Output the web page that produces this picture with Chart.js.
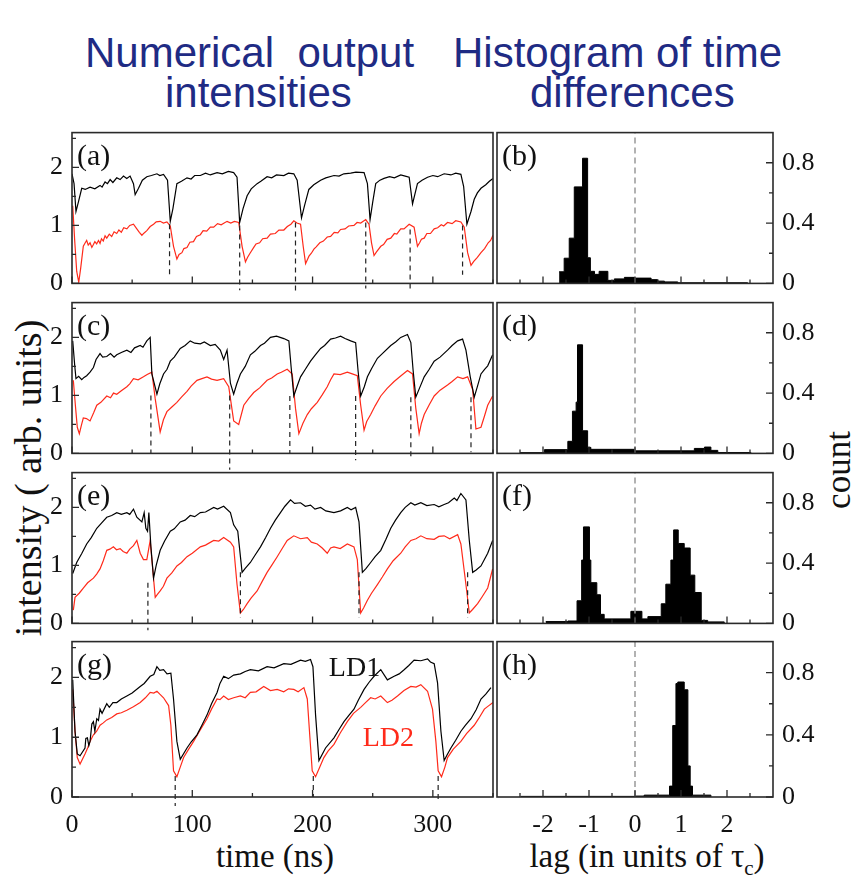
<!DOCTYPE html>
<html>
<head>
<meta charset="utf-8">
<script src="https://cdn.jsdelivr.net/npm/chart.js@4.4.1/dist/chart.umd.min.js"></script>
<style>
  body { margin: 0; background: #fff; }
  #fig { position: relative; width: 851px; height: 883px; overflow: hidden; background: #fff; }
  .box { position: absolute; }
  .txt { position: absolute; white-space: pre; line-height: 1; }
  .head { font-family: "Liberation Sans", Arial, sans-serif; font-size: 42px; color: #1f2b84; }
  .serif { font-family: "Liberation Serif", "Times New Roman", serif; color: #111; }
</style>
</head>
<body>
<div id="fig">
  <div class="txt head" style="left:85px;top:32px">Numerical  output</div>
  <div class="txt head" style="left:453px;top:32px">Histogram of time</div>
  <div class="txt head" style="left:165px;top:72px">intensities</div>
  <div class="txt head" style="left:530px;top:72px">differences</div>
  <div class="txt serif" style="left:28px;top:478px;font-size:38px;transform:translate(-50%,-50%) rotate(-90deg)">intensity ( arb. units)</div>
  <div class="txt serif" style="left:838px;top:470px;font-size:35px;transform:translate(-50%,-50%) rotate(-90deg)">count</div>
  <div class="txt serif" style="left:275px;top:840px;font-size:33px;transform:translateX(-50%)">time (ns)</div>
  <div class="txt serif" style="left:647px;top:840px;font-size:33px;transform:translateX(-50%)">lag (in units of τ<sub style="font-size:21px">c</sub>)</div>
</div>
<script>
// tick labels
const timeTicks = [0, 100, 200, 300];
const timeMinor = [50, 150, 250, 350];
const intTicks = [0, 1, 2];
const intMinor = [0.5, 1.5, 2.5];
const lagTicks = [-2, -1, 0, 1, 2];
const lagMinor = [-2.5, -1.5, -0.5, 0.5, 1.5, 2.5];
const cntTicks = [0, 0.4, 0.8];
const cntMinor = [0.2, 0.6];

// output intensities [time ns, intensity], LD1 black, LD2 red
const ldA1 = [[0,1.89],[1.7,1.72],[3.3,1.24],[5.3,1.40],[8.1,1.64],[11,1.62],[15,1.66],[19,1.63],[23.3,1.69],[25,1.66],[27.5,1.75],[29.5,1.72],[31.7,1.79],[34,1.74],[37.2,1.82],[40,1.79],[42.8,1.85],[45.5,1.81],[48.3,1.85],[51.1,1.72],[52.5,1.53],[55.3,1.64],[58.5,1.78],[62.2,1.84],[66,1.86],[70.6,1.89],[73,1.86],[76.1,1.88],[79.4,1.78],[81.7,1.07],[83.9,1.29],[87.2,1.72],[91,1.76],[95.6,1.82],[99,1.80],[102,1.86],[106.7,1.86],[111,1.90],[115,1.87],[120.6,1.91],[125,1.89],[130,1.93],[134.4,1.91],[137.2,1.83],[139.4,1.05],[142.2,1.29],[145.6,1.51],[149,1.63],[153.9,1.72],[157,1.76],[162.2,1.84],[166,1.82],[170,1.87],[176.1,1.86],[180,1.90],[184.4,1.89],[187.2,1.78],[190.8,1.13],[193.3,1.34],[196.9,1.62],[201,1.70],[206.7,1.78],[211,1.82],[217.8,1.86],[222,1.85],[226,1.89],[231.7,1.90],[236,1.92],[242.8,1.91],[245.6,1.72],[247.8,1.10],[250,1.40],[252.5,1.72],[256,1.78],[259.4,1.81],[264,1.84],[268,1.82],[273.3,1.87],[277,1.85],[280.3,1.83],[283.1,1.37],[287.2,1.72],[291,1.78],[295.6,1.83],[300,1.86],[304,1.84],[309.4,1.89],[315,1.87],[319,1.90],[323.3,1.88],[325.6,1.67],[328.3,1.02],[331.7,1.24],[334.4,1.45],[337,1.56],[340,1.64],[344,1.70],[347,1.76],[350,1.81]];
const ldA2 = [[0.6,1.34],[2.2,0.75],[3.9,0.21],[5.6,0.02],[7.2,0.26],[9.4,0.64],[11,0.70],[12.2,0.74],[13.5,0.66],[15,0.70],[16.5,0.62],[17.8,0.67],[19,0.72],[20.5,0.68],[22,0.74],[23.3,0.69],[24.5,0.77],[26,0.73],[27.5,0.82],[28.9,0.78],[31,0.85],[33,0.81],[35,0.89],[37.2,0.86],[39,0.92],[41,0.88],[43,0.96],[45.6,0.94],[48,1.00],[51.1,1.02],[53.9,0.94],[56,0.88],[58.1,0.83],[60,0.87],[62.2,0.91],[65,0.98],[67.8,1.02],[70,1.06],[73.3,1.07],[76,1.04],[78.9,1.06],[81.7,0.99],[84.4,0.64],[87.2,0.42],[89,0.50],[91.4,0.53],[93,0.60],[95.6,0.62],[98,0.71],[101,0.72],[103.5,0.81],[106.7,0.84],[109,0.91],[112,0.90],[115,0.97],[117.8,0.97],[121,1.03],[124,1.01],[128.9,1.07],[132,1.04],[135,1.07],[138.6,1.05],[141.4,0.64],[144.2,0.37],[146,0.45],[148,0.52],[151.1,0.62],[153,0.68],[156,0.70],[158.5,0.77],[162.2,0.78],[165,0.85],[169,0.86],[172,0.92],[176.1,0.92],[179,0.98],[182,1.02],[184.4,1.08],[187,1.04],[190,1.02],[192.2,0.64],[194.2,0.34],[197,0.47],[199,0.52],[201.1,0.59],[203,0.63],[206,0.70],[209,0.73],[212.2,0.80],[215,0.81],[218,0.88],[221,0.87],[223.3,0.93],[227,0.94],[230,0.99],[234.4,1.00],[237,1.05],[240,1.04],[244.2,1.10],[246.9,1.02],[249,0.70],[251.1,0.48],[253,0.54],[256.7,0.64],[259,0.67],[262,0.76],[265,0.78],[268,0.86],[270,0.85],[273.3,0.94],[276,0.94],[280.3,1.02],[284.4,0.97],[287.2,0.64],[289,0.70],[290.5,0.76],[292.8,0.78],[295,0.86],[298,0.86],[301.1,0.94],[304,0.96],[307,1.01],[309,0.99],[312.2,1.05],[316,1.03],[319,1.08],[323.3,1.06],[326.1,0.97],[328.9,0.53],[331.7,0.31],[334,0.38],[337,0.45],[340,0.53],[343,0.60],[346,0.70],[348,0.74],[350,0.83]];

const ldC1 = [[0.6,1.94],[2.2,1.53],[3.3,1.29],[5.5,1.33],[8.1,1.27],[10,1.31],[12.2,1.34],[15,1.40],[17.8,1.48],[20,1.62],[23.3,1.72],[25.5,1.66],[28.9,1.67],[32,1.72],[35,1.66],[37.2,1.70],[41,1.74],[45.6,1.78],[49,1.74],[52,1.82],[56.7,1.86],[59,1.83],[62.2,1.94],[65,2.0],[66.4,1.37],[70.6,1.02],[73,1.20],[76.1,1.37],[79,1.45],[81.7,1.59],[85,1.66],[90,1.81],[94,1.86],[98.3,1.94],[102,1.90],[106.7,1.89],[110,1.92],[115,1.86],[119,1.88],[123.3,1.78],[126.1,1.62],[128.9,1.78],[131.7,1.21],[134.4,1.02],[137,1.20],[140,1.37],[144,1.50],[148.3,1.70],[152,1.76],[156.7,1.86],[160,1.90],[165,2.0],[170,2.02],[176.1,1.98],[180.3,1.94],[182.2,1.48],[184.4,0.99],[187,1.15],[190,1.32],[194,1.45],[198.3,1.59],[202,1.69],[206.7,1.81],[210,1.86],[215,1.97],[219,1.99],[223.3,2.02],[227,1.98],[231.7,1.94],[235.8,1.91],[237.8,1.43],[240,0.99],[243,1.15],[245.6,1.32],[249,1.46],[253.9,1.64],[258,1.72],[265,1.86],[269,1.92],[273.3,2.0],[278.9,2.05],[281.7,1.91],[283.6,1.43],[285.8,0.97],[289,1.13],[292.8,1.32],[297,1.45],[301.1,1.59],[306,1.66],[312.2,1.78],[316,1.86],[320.6,1.94],[324.7,1.97],[327.5,1.78],[331.1,1.32],[334.4,0.97],[337,1.15],[340,1.37],[343,1.45],[345.6,1.51],[349.7,1.70]];
const ldC2 = [[1.1,1.26],[2.8,0.83],[4.4,0.45],[6.1,0.34],[8,0.50],[9.4,0.61],[12,0.60],[15,0.56],[18,0.70],[20.6,0.83],[24,0.88],[28.9,0.99],[32,0.96],[34.5,1.04],[37.2,1.02],[41,1.08],[45.6,1.15],[48,1.20],[51.1,1.29],[55,1.27],[59.4,1.32],[62.5,1.36],[66.4,1.40],[69.2,0.94],[73.3,0.37],[76,0.58],[78.9,0.72],[83,0.80],[87.2,0.88],[91,0.97],[95.6,1.07],[99,1.16],[103.9,1.26],[108,1.29],[112.2,1.32],[116,1.28],[120.6,1.26],[126.1,1.29],[130.3,1.15],[134.4,0.56],[138.6,0.50],[142.8,0.83],[147,0.95],[151.1,1.05],[156,1.13],[162.2,1.26],[166,1.30],[170.6,1.37],[174,1.40],[178.9,1.45],[183.1,1.37],[185.8,0.78],[188.6,0.34],[192,0.52],[195.6,0.67],[199,0.77],[203.9,0.88],[208,1.01],[212.2,1.15],[215,1.27],[217.8,1.37],[223,1.36],[228.9,1.40],[233,1.37],[237.2,1.34],[240,0.83],[242.8,0.40],[245,0.55],[248.3,0.67],[252,0.82],[256.7,0.99],[262,1.12],[267.8,1.24],[273,1.33],[278.9,1.43],[283.1,1.37],[285.8,0.78],[288.6,0.34],[290.5,0.52],[292.8,0.67],[297,0.84],[301.1,0.99],[306,1.09],[312.2,1.18],[316,1.24],[320.6,1.32],[325,1.29],[328.9,1.32],[333.1,1.10],[335.8,0.42],[340,0.45],[343,0.65],[345.6,0.83],[349.7,0.99]];

const ldE1 = [[0.6,0.86],[3.9,1.05],[8,1.20],[12.2,1.37],[16,1.48],[20.6,1.64],[24.5,1.73],[28.9,1.83],[33,1.86],[37.2,1.91],[41,1.88],[45.6,1.91],[48,1.88],[51.1,1.97],[53.9,1.83],[58.1,1.75],[60,1.91],[61.4,1.64],[62.8,1.59],[63.9,1.91],[65.6,1.32],[67.8,0.78],[70,1.00],[73.3,1.26],[77,1.42],[81.7,1.59],[85,1.63],[90,1.75],[94,1.78],[98.3,1.86],[102,1.84],[106.7,1.91],[111,1.92],[117.8,2.0],[121,1.97],[126.1,2.02],[131.7,1.91],[134.4,1.70],[137.8,1.59],[141.4,0.88],[144,0.95],[148.3,1.05],[152,1.17],[156.7,1.32],[161,1.48],[165,1.64],[169,1.78],[173.3,1.91],[177,2.02],[181.7,2.13],[185,2.07],[190,2.08],[194,2.02],[198.3,2.04],[202,1.97],[206.7,2.0],[211,1.94],[217.8,1.91],[223.3,1.94],[228.9,2.0],[232,1.96],[235.8,2.0],[238.6,1.75],[241.4,0.88],[244.5,0.95],[248.3,1.05],[252,1.15],[256.7,1.26],[261,1.45],[265,1.64],[269,1.78],[273.3,1.91],[277,2.00],[281.7,2.08],[285,2.04],[290,2.08],[295,2.03],[301.1,2.05],[305,2.01],[309.4,2.05],[313,2.08],[317.8,2.16],[320,2.12],[323.3,2.24],[327.5,2.13],[330.3,1.43],[333.1,0.88],[336,0.92],[340,0.99],[345.6,1.21],[349.7,1.43]];
const ldE2 = [[1.1,0.23],[2.5,0.45],[6,0.52],[9.4,0.61],[13,0.70],[17.8,0.78],[20.5,0.85],[23.3,0.94],[26,1.08],[28.9,1.26],[31.5,1.28],[34.4,1.32],[37,1.27],[40,1.29],[42.5,1.24],[45.6,1.21],[48,1.28],[51.1,1.34],[53.9,1.43],[56.7,1.21],[59.4,1.10],[62.2,1.10],[65,1.43],[66.4,1.10],[69.2,0.45],[71,0.50],[73.3,0.56],[76,0.64],[78.9,0.78],[83,0.87],[87.2,0.99],[91,1.05],[95.6,1.15],[100,1.21],[106.7,1.32],[111,1.35],[117.8,1.43],[122,1.42],[126.1,1.48],[131.7,1.40],[134.4,1.32],[137.2,0.67],[140,0.18],[142.5,0.24],[145.6,0.34],[149,0.44],[153.9,0.56],[158,0.72],[162.2,0.88],[166,1.00],[170.6,1.15],[175,1.30],[178.9,1.43],[184.4,1.51],[190,1.46],[195.6,1.48],[199,1.40],[203.9,1.37],[208,1.30],[212.2,1.21],[215,1.30],[217.8,1.32],[223,1.29],[228.9,1.37],[234.4,1.32],[237.2,1.10],[240,0.18],[242.5,0.27],[245.6,0.40],[249,0.52],[253.9,0.67],[258,0.80],[262.2,0.94],[267,1.08],[273.3,1.21],[277,1.32],[281.7,1.43],[286,1.46],[290,1.51],[295,1.46],[301.1,1.45],[305,1.50],[309.4,1.51],[314,1.46],[320.6,1.53],[323.3,1.37],[327.5,0.67],[330.3,0.18],[333,0.24],[337.2,0.34],[341,0.46],[345.6,0.61],[349.7,0.94]];

const ldG1 = [[0.6,1.96],[2.5,1.10],[4.4,0.72],[6.7,0.69],[10.8,0.82],[11.5,0.98],[12.8,0.99],[14,0.86],[15,0.93],[16.5,1.22],[17.8,1.26],[19,1.10],[20.6,1.31],[22,1.28],[23.3,1.47],[25,1.40],[28.9,1.56],[31,1.50],[34,1.58],[37.2,1.58],[41,1.64],[45.6,1.69],[50,1.74],[56.7,1.85],[60,1.90],[65,2.02],[68,2.05],[70.6,2.18],[73,2.12],[76.1,2.13],[79,2.06],[82.2,2.07],[84.4,1.64],[87.2,0.93],[90,0.63],[95.6,0.82],[99,0.92],[103.9,1.04],[108,1.20],[112.2,1.37],[116,1.56],[120.6,1.75],[123,1.90],[126.1,2.02],[130,1.98],[134.4,2.04],[140,2.06],[144,2.10],[148.3,2.13],[155,2.11],[162.2,2.18],[168,2.16],[176.1,2.23],[182,2.22],[190,2.29],[194,2.27],[198.3,2.30],[200.3,2.18],[202.5,1.37],[205.3,0.61],[210.8,0.82],[217.8,0.99],[222,1.13],[226.1,1.26],[230,1.36],[234.4,1.47],[238,1.62],[242.8,1.80],[247,1.92],[251.1,2.02],[256.7,2.13],[262.2,1.96],[267.8,2.02],[272,2.06],[276.1,2.13],[280,2.20],[284.4,2.29],[290,2.28],[295.6,2.31],[298,2.26],[301.1,2.23],[303.9,1.91],[306.7,1.10],[309.4,0.61],[312,0.71],[315,0.82],[319,0.95],[323.3,1.10],[327,1.20],[331.7,1.31],[336,1.46],[340,1.64],[344,1.72],[348.3,1.83]];
const ldG2 = [[0.6,1.80],[2.5,1.10],[4.4,0.66],[6.7,0.55],[10.8,0.72],[13,0.82],[15,0.93],[17.8,1.04],[20.5,1.10],[23.3,1.20],[26,1.24],[28.9,1.29],[33,1.33],[37.2,1.39],[41,1.41],[45.6,1.45],[51,1.51],[56.7,1.58],[61,1.66],[65,1.75],[68,1.74],[70.6,1.77],[73,1.72],[76.1,1.66],[80.3,1.53],[82.2,1.20],[84.4,0.44],[87.2,0.34],[90,0.50],[92.8,0.66],[97,0.80],[101.1,0.93],[106,1.10],[112.2,1.31],[116,1.47],[120.6,1.64],[123,1.63],[126.1,1.69],[130,1.63],[134.4,1.66],[140,1.69],[144,1.66],[148.3,1.75],[153,1.76],[159.4,1.85],[165,1.78],[170.6,1.80],[176,1.76],[180,1.81],[184.4,1.80],[188,1.76],[192.8,1.83],[195.6,1.64],[197.8,0.99],[199.7,0.44],[202.5,0.34],[206,0.50],[209.4,0.66],[213,0.77],[217.8,0.88],[223,1.07],[228.9,1.26],[234,1.40],[240,1.50],[244,1.58],[248.3,1.66],[252,1.64],[256.7,1.69],[262.2,1.58],[266,1.62],[270.6,1.69],[276,1.78],[281.7,1.85],[286,1.84],[290,1.88],[295.6,1.77],[299.7,1.47],[302.5,0.93],[304.4,0.44],[307.2,0.34],[310,0.50],[312.2,0.66],[317,0.80],[323.3,0.93],[328,1.06],[334.4,1.20],[338,1.31],[342.8,1.47],[346,1.52],[350,1.58]];

// dashed markers of the drops: [time, upper, lower]
const dashA = [[81.1,1.02,0.15],[139.4,1.0,-0.12],[185.8,1.05,-0.15],[244.2,1.05,-0.09],[281.1,0.93,-0.15],[324.7,1.0,0.15]];
const dashC = [[65.6,1.0,0],[131.1,1.0,-0.28],[181.1,0.99,0],[235.8,0.99,-0.12],[281.7,0.97,-0.12],[331.7,0.97,0.02]];
const dashE = [[63.1,0.7,-0.12],[140,0.88,0.1],[238.6,0.88,0.1],[328.9,0.88,0.1]];
const dashG = [[85.8,0.35,-0.15],[200.6,0.35,0],[304.4,0.35,-0.08]];

// histograms: left bin edges (lag / tau_c) and counts
const lagB = [-1.65,-1.54,-1.43,-1.32,-1.14,-1.03,-0.97,-0.88,-0.78,-0.59,-0.45,-0.23,-0.01,0.35,0.49,0.64,0.93,2.45];
const cntB = [0.077,0.167,0.30,0.64,0.83,0.17,0.08,0.06,0.08,0.02,0.03,0.04,0.035,0.025,0.015,0.01,0.004,0];
const lagD = [-2.5,-1.97,-1.46,-1.36,-1.28,-1.25,-1.14,-1.03,-0.96,-0.01,1.29,1.51,1.65,1.8,2.52];
const cntD = [0.005,0.025,0.08,0.28,0.34,0.72,0.15,0.04,0.027,0.017,0.033,0.042,0.02,0.006,0];
const lagF = [-1.94,-1.46,-1.26,-1.16,-1.12,-0.99,-0.96,-0.83,-0.75,-0.67,-0.09,0.15,0.28,0.57,0.67,0.78,0.84,0.94,1.07,1.2,1.3,1.44,1.58,1.94];
const cntF = [0.012,0.016,0.15,0.42,0.64,0.42,0.27,0.19,0.06,0.03,0.08,0.03,0.045,0.13,0.26,0.42,0.62,0.53,0.50,0.32,0.205,0.02,0.01,0];
const lagH = [-2.48,-0.01,0.2,0.75,0.82,0.89,0.93,1.07,1.15,1.2,1.25,1.65];
const cntH = [0.004,0.006,0.012,0.07,0.46,0.73,0.74,0.69,0.2,0.07,0.012,0];

const RED = '#ff2a1a';
Chart.defaults.font.family = '"Liberation Serif", "Times New Roman", serif';
Chart.defaults.color = '#111';

// frame box, inward ticks and panel letters
const framePlugin = {
    id: 'frame',
    afterDatasetsDraw(chart, args, o) {
        const ctx = chart.ctx, a = chart.chartArea;
        const xs = chart.scales.x, ys = chart.scales.y;
        ctx.save();
        ctx.strokeStyle = '#2a2a2a';
        ctx.lineWidth = 1.3;
        ctx.beginPath();
        o.xMajor.concat(o.xMinor).forEach(v => {
            const px = xs.getPixelForValue(v);
            const len = o.xMajor.includes(v) ? 7 : 4;
            ctx.moveTo(px, a.bottom);
            ctx.lineTo(px, a.bottom - len);
        });
        o.yMajor.concat(o.yMinor).forEach(v => {
            const py = ys.getPixelForValue(v);
            const len = o.yMajor.includes(v) ? 7 : 4;
            if (o.side === 'left') {
                ctx.moveTo(a.left, py);
                ctx.lineTo(a.left + len, py);
            } else {
                ctx.moveTo(a.right, py);
                ctx.lineTo(a.right - len, py);
            }
        });
        ctx.stroke();
        ctx.lineWidth = 1.6;
        ctx.strokeRect(a.left, a.top, a.right - a.left, a.bottom - a.top);
        ctx.fillStyle = '#111';
        ctx.font = '30px "Liberation Serif"';
        ctx.textBaseline = 'alphabetic';
        ctx.fillText(o.label, a.left + 5, a.top + 32);
        (o.notes || []).forEach(n => {
            ctx.fillStyle = n.color;
            ctx.font = '28px "Liberation Serif"';
            ctx.fillText(n.text, xs.getPixelForValue(n.x), ys.getPixelForValue(n.y));
        });
        ctx.restore();
    }
};

function pts(arr) {
    return arr.map(p => ({x: p[0], y: p[1]}));
}

function fixedTicks(list) {
    return s => { s.ticks = list.map(v => ({value: v})); };
}

const fig = document.getElementById('fig');

// put the chart so that its plot area lands at (areaLeft, areaTop)
function place(cfg, areaLeft, areaTop, w, h) {
    const box = document.createElement('div');
    box.className = 'box';
    const cv = document.createElement('canvas');
    cv.width = w;
    cv.height = h;
    cv.style.width = w + 'px';
    cv.style.height = h + 'px';
    box.appendChild(cv);
    fig.appendChild(box);
    const chart = new Chart(cv, cfg);
    box.style.left = (areaLeft - chart.chartArea.left) + 'px';
    box.style.top = (areaTop - chart.chartArea.top) + 'px';
    return chart;
}

function baseOptions() {
    return {
        responsive: false,
        maintainAspectRatio: false,
        animation: false,
        events: [],
        devicePixelRatio: 1,
        plugins: {legend: {display: false}, tooltip: {enabled: false}}
    };
}

function intensityPanel(top, black, red, dashes, label, bottom, notes) {
    const datasets = dashes.map(d => ({
        data: [{x: d[0], y: d[1]}, {x: d[0], y: d[2]}],
        borderColor: '#222', borderWidth: 1.2, borderDash: [5, 4], pointRadius: 0, clip: false
    }));
    datasets.push({data: pts(black), borderColor: '#000', borderWidth: 1.2, pointRadius: 0});
    datasets.push({data: pts(red), borderColor: RED, borderWidth: 1.2, pointRadius: 0});
    const opts = baseOptions();
    opts.layout = {padding: {top: 20, right: 4, left: 0, bottom: 0}};
    opts.plugins.frame = {xMajor: timeTicks, xMinor: timeMinor, yMajor: intTicks, yMinor: intMinor, side: 'left', label: label, notes: notes};
    opts.scales = {
        x: {
            type: 'linear', min: 0, max: 350,
            grid: {display: false}, border: {display: false},
            afterBuildTicks: fixedTicks(timeTicks),
            ticks: {display: bottom, font: {size: 26}, padding: 5, maxRotation: 0},
            afterFit: s => { s.height = bottom ? 50 : 20; }
        },
        y: {
            min: 0, max: 2.6,
            grid: {display: false, drawTicks: false}, border: {display: false},
            afterBuildTicks: fixedTicks(intTicks),
            ticks: {font: {size: 26}, padding: 9},
            afterFit: s => { s.width = 72; }
        }
    };
    const cfg = {type: 'line', data: {datasets: datasets}, options: opts, plugins: [framePlugin]};
    return place(cfg, 72, top, 497, 180 + (bottom ? 50 : 20));
}

function histogramPanel(top, lags, counts, label, bottom) {
    const hist = lags.map((v, i) => ({x: v, y: counts[i]}));
    const datasets = [
        {data: [{x: 0, y: 0}, {x: 0, y: 1}], borderColor: '#999', borderWidth: 1.5, borderDash: [6, 4], pointRadius: 0},
        {data: hist, stepped: true, fill: 'origin', backgroundColor: '#000', borderColor: '#000', borderWidth: 1, pointRadius: 0}
    ];
    const opts = baseOptions();
    opts.layout = {padding: {top: 20, right: 0, left: 4, bottom: 0}};
    opts.plugins.frame = {xMajor: lagTicks, xMinor: lagMinor, yMajor: cntTicks, yMinor: cntMinor, side: 'right', label: label};
    opts.scales = {
        x: {
            type: 'linear', min: -3, max: 3,
            grid: {display: false}, border: {display: false},
            afterBuildTicks: fixedTicks(lagTicks),
            ticks: {display: bottom, font: {size: 26}, padding: 5, maxRotation: 0},
            afterFit: s => { s.height = bottom ? 50 : 20; }
        },
        y: {
            position: 'right', min: 0, max: 1,
            grid: {display: false, drawTicks: false}, border: {display: false},
            afterBuildTicks: fixedTicks(cntTicks),
            ticks: {font: {size: 26}, padding: 9},
            afterFit: s => { s.width = 78; }
        }
    };
    const cfg = {type: 'line', data: {datasets: datasets}, options: opts, plugins: [framePlugin]};
    return place(cfg, 497, top, 358, 180 + (bottom ? 50 : 20));
}

intensityPanel(133, ldA1, ldA2, dashA, '(a)', false);
intensityPanel(303, ldC1, ldC2, dashC, '(c)', false);
intensityPanel(473, ldE1, ldE2, dashE, '(e)', false);
intensityPanel(642, ldG1, ldG2, dashG, '(g)', true, [
    {text: 'LD1', x: 213.5, y: 2.03, color: '#111'},
    {text: 'LD2', x: 241.7, y: 0.85, color: RED}
]);

histogramPanel(133, lagB, cntB, '(b)', false);
histogramPanel(303, lagD, cntD, '(d)', false);
histogramPanel(473, lagF, cntF, '(f)', false);
histogramPanel(642, lagH, cntH, '(h)', true);
</script>
</body>
</html>
